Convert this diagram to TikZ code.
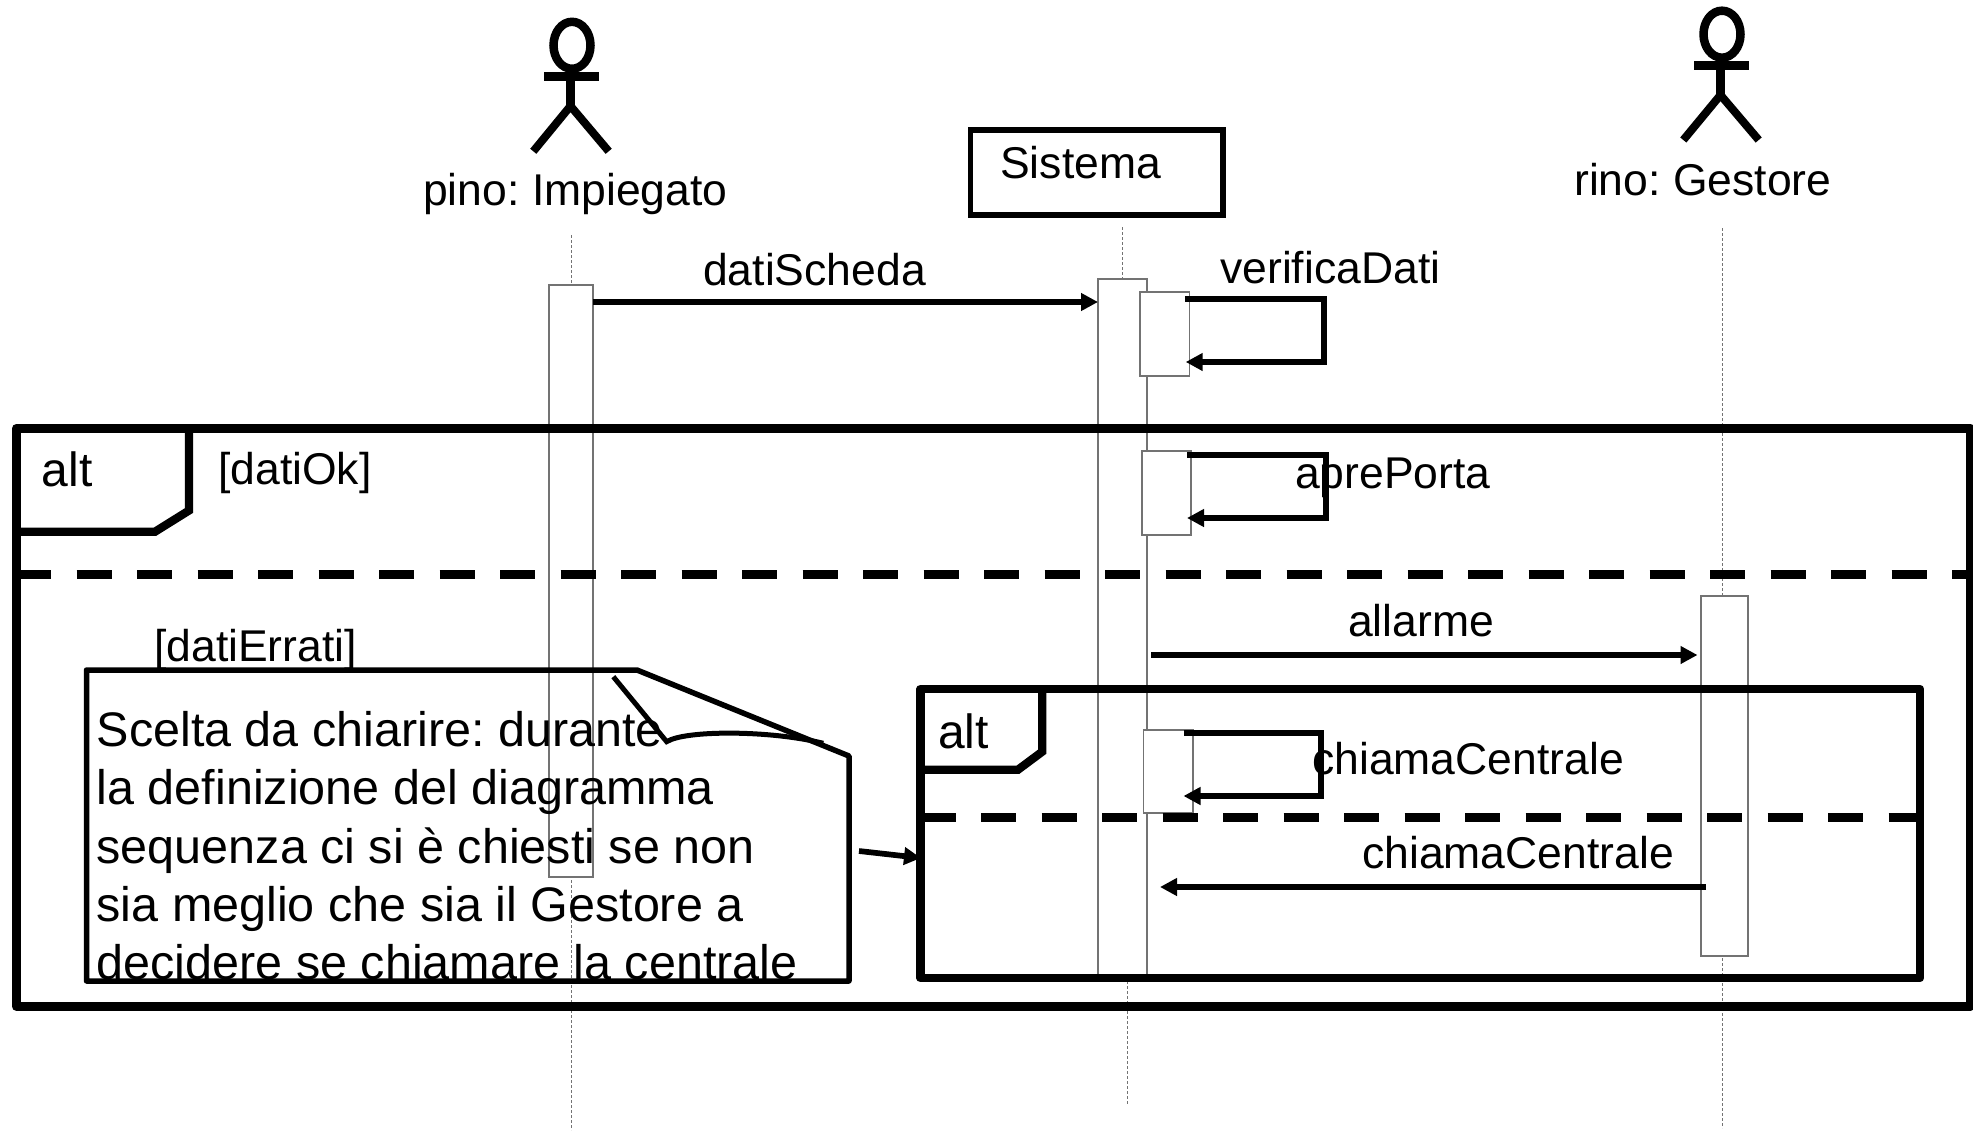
\documentclass[tikz,border=0pt]{standalone}
\usepackage{fontspec}
\setmainfont{Liberation Sans}
\usetikzlibrary{arrows.meta}
\tikzset{
  x=1pt,y=-1pt,
  lab/.style={anchor=base west,inner sep=0pt,font=\fontsize{44.5}{50}\selectfont\frenchspacing},
  big/.style={anchor=base west,inner sep=0pt,font=\fontsize{48}{58}\selectfont},
  life/.style={draw=black!55,line width=1pt,dash pattern=on 3pt off 2pt},
  act/.style={draw=black!55,line width=1.2pt,fill=white,anchor=north west,inner sep=0pt,outer sep=0pt},
  frame/.style={draw=black,line width=8.7pt,line join=round,anchor=north west,inner sep=0pt,outer sep=0pt},
  tab/.style={draw=black,line width=8.3pt,line join=miter},
  sep/.style={draw=black,line width=8.7pt,dash pattern=on 35pt off 25.5pt},
  msg/.style={draw=black,line width=5.7pt,-{Triangle[length=17pt,width=17pt]}},
  actorline/.style={draw=black,line width=8.5pt},
  notebox/.style={draw=black,line width=5.5pt,line join=round},
}
\begin{document}
\begin{tikzpicture}
\useasboundingbox (0,0) rectangle (1973,1132);
% lifelines
\coordinate (l1t) at (571,235); \coordinate (l1b) at (571,1130);
\coordinate (l2t) at (1122.5,227); \coordinate (l2m) at (1122.5,280);
\coordinate (l2c) at (1127,976); \coordinate (l2b) at (1127,1105);
\coordinate (l3t) at (1722.5,228); \coordinate (l3b) at (1722.5,1128);
\draw[life] (l1t) -- (l1b);
\draw[life] (l2t) -- (l2m);
\draw[life] (l2c) -- (l2b);
\draw[life] (l3t) -- (l3b);
% activations
\node[act,minimum width=44pt,minimum height=592pt] (a1) at (549,285) {};
\node[act,minimum width=49pt,minimum height=697pt] (a2) at (1098,279) {};
\node[act,minimum width=49.5pt,minimum height=84pt] (a2v) at (1140,292) {};
\node[act,minimum width=49pt,minimum height=84pt] (a2p) at (1142,451) {};
\node[act,minimum width=49.5pt,minimum height=83pt] (a2c) at (1143.5,730) {};
\node[act,minimum width=47pt,minimum height=360pt] (a3) at (1701,596) {};
% outer frame
\node[frame,minimum width=1954pt,minimum height=578pt] (outer) at (16.3,428.3) {};
\coordinate (ot1) at (189,428); \coordinate (ot2) at (189,510.5);
\coordinate (ot3) at (155,531.7); \coordinate (ot4) at (16,531.7);
\draw[tab] (ot1) -- (ot2) -- (ot3) -- (ot4);
\coordinate (os1) at (16,574.3); \coordinate (os2) at (1970,574.3);
\draw[sep] (os1) -- (os2);
% inner frame
\node[frame,minimum width=999.5pt,minimum height=289pt] (inner) at (920.5,689) {};
\coordinate (it1) at (1042.2,689); \coordinate (it2) at (1042.2,751.7);
\coordinate (it3) at (1018,769.7); \coordinate (it4) at (920,769.7);
\draw[tab] (it1) -- (it2) -- (it3) -- (it4);
\coordinate (is1) at (920.5,817.7); \coordinate (is2) at (1916,817.7);
\draw[sep] (is1) -- (is2);
% actors
\draw[actorline] (572,45.3) ellipse [x radius=18.5,y radius=23.5];
\coordinate (h1) at (570.5,72); \coordinate (w1) at (570.5,105);
\draw[actorline] (h1) -- (w1);
\coordinate (s1l) at (544,76.3); \coordinate (s1r) at (599,76.3);
\draw[actorline,line width=9.3pt] (s1l) -- (s1r);
\coordinate (f1l) at (533.3,151.3); \coordinate (f1r) at (608.7,151.3);
\coordinate (w1a) at (570.5,106);
\draw[actorline,line width=8pt] (f1l) -- (w1a) -- (f1r);
\draw[actorline] (1722,34.2) ellipse [x radius=18.5,y radius=23.5];
\coordinate (h2) at (1720.5,61); \coordinate (w2) at (1720.5,94);
\draw[actorline] (h2) -- (w2);
\coordinate (s2l) at (1694,65.3); \coordinate (s2r) at (1749,65.3);
\draw[actorline,line width=9.3pt] (s2l) -- (s2r);
\coordinate (f2l) at (1683.3,140); \coordinate (f2r) at (1758.7,140);
\coordinate (w2a) at (1720.5,95);
\draw[actorline,line width=8pt] (f2l) -- (w2a) -- (f2r);
% system box
\node[draw=black,line width=5.7pt,anchor=north west,inner sep=0pt,outer sep=0pt,minimum width=252.5pt,minimum height=85pt] (sys) at (970.5,130) {};
% labels
\node[lab] (tp) at (423,205) {pino: Impiegato};
\node[lab] (ts) at (1000,178) {Sistema};
\node[lab] (tr) at (1574,195) {rino: Gestore};
\node[lab] (md) at (703,285) {datiScheda};
\node[lab] (mv) at (1220,283) {verificaDati};
\node[lab] (ma) at (1295,488) {aprePorta};
\node[lab] (mal) at (1348,636) {allarme};
\node[lab] (mc1) at (1312,774) {chiamaCentrale};
\node[lab] (mc2) at (1362,868) {chiamaCentrale};
\node[big] (alt1) at (41.5,486) {alt};
\node[big] (alt2) at (938,748) {alt};
\node[lab] (g1) at (218,484) {[datiOk]};
\node[lab] (g2) at (154,661) {[datiErrati]};
% messages
\draw[msg] (a1.east |- 0,302) -- (a2.west |- 0,302);
\coordinate (v1) at (1185,298.7); \coordinate (v2) at (1324,298.7);
\coordinate (v3) at (1324,362); \coordinate (v4) at (1185.7,362);
\draw[msg] (v1) -- (v2) -- (v3) -- (v4);
\coordinate (p1) at (1187,455); \coordinate (p2) at (1326,455);
\coordinate (p3) at (1326,518); \coordinate (p4) at (1187,518);
\draw[msg] (p1) -- (p2) -- (p3) -- (p4);
\coordinate (c1) at (1183.5,733); \coordinate (c2) at (1321,733);
\coordinate (c3) at (1321,796); \coordinate (c4) at (1183.5,796);
\draw[msg] (c1) -- (c2) -- (c3) -- (c4);
\coordinate (al1) at (1151,655); \coordinate (al2) at (1697.5,655);
\draw[msg] (al1) -- (al2);
\coordinate (cm1) at (1706,887); \coordinate (cm2) at (1160,887);
\draw[msg] (cm1) -- (cm2);
% note
\coordinate (n1) at (86.5,670); \coordinate (n2) at (637,670); \coordinate (n3) at (849,756);
\coordinate (n4) at (849,981); \coordinate (n5) at (86.5,981);
\draw[notebox] (n1) -- (n2) -- (n3) -- (n4) -- (n5) -- cycle;
\coordinate (f1) at (613.3,676.7); \coordinate (f2) at (666.7,741.7); \coordinate (f3) at (823.3,743.3);
\draw[notebox,line width=5pt,line join=miter] (f1) -- (f2) .. controls (685,730) and (770,730) .. (f3);
\node[anchor=base west,inner sep=0pt,align=left,font=\fontsize{48.5}{58.2}\selectfont\frenchspacing] (notetext) at (96.5,979.5) {Scelta da chiarire: durante\\la definizione del diagramma\\sequenza ci si è chiesti se non\\sia meglio che sia il Gestore a\\decidere se chiamare la centrale};
\coordinate (na) at (859,851); \coordinate (nb) at (921,858);
\draw[msg] (na) -- (nb);
\end{tikzpicture}
\end{document}
